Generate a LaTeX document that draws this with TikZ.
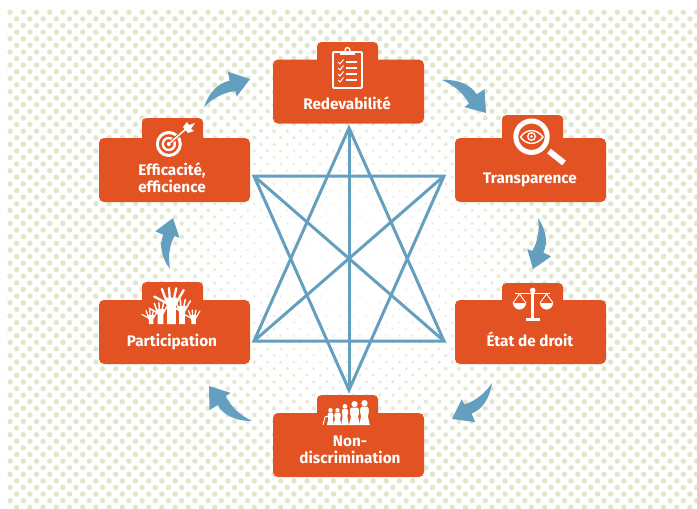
\documentclass[tikz,border=0pt]{standalone}
\usepackage{fontspec}
\setmainfont{Fira Sans}
\usepackage{tikz}
\usepackage{xcolor}
\usetikzlibrary{calc}
\definecolor{dutyorange}{HTML}{E25222}
\definecolor{starblue}{HTML}{659FBF}
\definecolor{dotgreen}{HTML}{DFE6CA}
\tikzset{
	dutybox/.style={fill=dutyorange,rounded corners=5pt,minimum width=151pt,minimum height=64pt,inner sep=0pt},
	dutytab/.style={fill=dutyorange,rounded corners=4pt,minimum width=61pt,minimum height=30pt,inner sep=0pt,anchor=north},
	dutylabel/.style={text=white,font=\bfseries\fontsize{15.3}{17}\selectfont,align=center,inner sep=0pt},
	starline/.style={draw=starblue,line width=3pt,line join=miter},
	icon/.style={draw=white,line width=1.8pt,line cap=round}
}
% point of a flow arrow, along and across the line from tail to tip
\newcommand{\ap}[2]{($(\tail)!#1!(\tip)+(\tail)!#2!90:(\tip)-(\tail)$)}
\newcommand{\flowarrow}[2]{
	\def\tail{#1}\def\tip{#2}
	\fill[starblue] (\tail) .. controls \ap{.2}{.17} and \ap{.45}{.25} .. \ap{.66}{.17} -- \ap{.72}{.33} -- (\tip) -- \ap{.62}{-.15} -- \ap{.65}{-.05} .. controls \ap{.45}{.05} and \ap{.2}{.05} .. (\tail) -- cycle;
}
% one raised hand: x, top of palm, bottom of arm, size
\newcommand{\raisedhand}[4]{
	\fill[white] (#1-#4*.45,#3) -- (#1-#4*.45,#2+#4*1.1) -- (#1-#4*.6,#2) -- (#1+#4*.6,#2) -- (#1+#4*.45,#2+#4*1.1) -- (#1+#4*.45,#3) -- cycle;
	\foreach \a/\o in {-62/-.3,-20/-.42,-4/-.14,12/.14,30/.42}
		\draw[white,line width=#4*.24pt,line cap=round] (#1+#4*\o,#2+#4*.7) -- ++(\a+90:-#4*1.7);
}
% one figure of the group: x, top of head, head radius, half width
\newcommand{\groupfigure}[4]{
	\fill[white] (#1,#2+#3) circle (#3);
	\fill[white] (#1-#4*.7,#2+#3*2.1) .. controls (#1-#4*1.2,#2+#3*2.5) and (#1-#4*1.1,#2+#3*4) .. (#1-#4*.8,#2+#3*5)
		-- (#1-#4*1.25,425) -- (#1+#4*1.25,425) -- (#1+#4*.8,#2+#3*5)
		.. controls (#1+#4*1.1,#2+#3*4) and (#1+#4*1.2,#2+#3*2.5) .. (#1+#4*.7,#2+#3*2.1) -- cycle;
}
\begin{document}
\begin{tikzpicture}[x=1pt,y=-1pt]
	\useasboundingbox (0,0) rectangle (697,509);
	% background dots, fading to the middle
	\begin{scope}
		\clip (6,8) rectangle (697,509);
		\foreach \row in {0,...,77}
			\foreach \col in {0,...,53}{
				\pgfmathsetmacro{\dotx}{3.5+13.2*\col+6.6*mod(\row,2)}
				\pgfmathsetmacro{\doty}{5.7+6.6*\row}
				\pgfmathsetmacro{\fade}{min(1,veclen(\dotx-349,\doty-258)/215)}
				\pgfmathsetmacro{\pct}{int(30+70*\fade)}
				\fill[dotgreen!\pct!white] (\dotx,\doty) circle ({.5+2.2*\fade});
			}
	\end{scope}
	% star
	\coordinate (top) at (349,128);
	\coordinate (bottom) at (349,390);
	\coordinate (upleft) at (254,176);
	\coordinate (upright) at (444,176);
	\coordinate (lowleft) at (254,341);
	\coordinate (lowright) at (444,341);
	\draw[starline] (top) -- (lowright) -- (lowleft) -- cycle;
	\draw[starline] (bottom) -- (upright) -- (upleft) -- cycle;
	\draw[starline] (top) -- (bottom);
	\draw[starline] (upleft) -- (lowright);
	\draw[starline] (upright) -- (lowleft);
	% boxes
	\node[dutytab] (redevtab) at (347.5,42) {};
	\node[dutybox] (redev) at (348.5,91.5) {};
	\node[dutytab] (transptab) at (532.5,115) {};
	\node[dutybox] (transp) at (530.5,170) {};
	\node[dutytab] (etattab) at (532.5,283) {};
	\node[dutybox] (etat) at (530.5,332) {};
	\node[dutytab] (nondisctab) at (347.5,395) {};
	\node[dutybox] (nondisc) at (348.5,445) {};
	\node[dutytab] (participtab) at (172.5,282) {};
	\node[dutybox] (particip) at (174.5,332) {};
	\node[dutytab] (efficatab) at (172.5,118) {};
	\node[dutybox] (effica) at (174.5,170) {};
	\node[dutylabel,anchor=base] (redevlabel) at (347,109) {Redevabilité};
	\node[dutylabel,anchor=base] (transplabel) at (530,183) {Transparence};
	\node[dutylabel,anchor=base] (etatlabel) at (530,346) {État de droit};
	\node[dutylabel] (nondisclabel) at (350,450) {Non-\\discrimination};
	\node[dutylabel,anchor=base] (participlabel) at (172,346) {Participation};
	\node[dutylabel] (efficalabel) at (172,178) {Efficacité,\\efficience};
	% arrows
	\coordinate (a1) at (442,80);   \coordinate (b1) at (486,113);
	\coordinate (a2) at (538,218);  \coordinate (b2) at (533,269);
	\coordinate (a3) at (492,383);  \coordinate (b3) at (452,419);
	\coordinate (a4) at (252,421);  \coordinate (b4) at (209,386);
	\coordinate (a5) at (170,269);  \coordinate (b5) at (173,218);
	\coordinate (a6) at (204,107);  \coordinate (b6) at (250,79);
	\foreach \i in {1,...,6}
		\flowarrow{a\i}{b\i}
	% clipboard
	\draw[icon,fill=dutyorange,rounded corners=2pt] (333,52) rectangle (362,88);
	\fill[white] (340,50.5) rectangle (355,55);
	\draw[white,line width=1.3pt] (347.5,50) circle (2.4);
	\foreach \y in {62,68,74,80}{
		\draw[white,line width=1pt] (338,\y) -- (340,\y+2) -- (343.5,\y-2.5);
		\draw[white,line width=1.4pt] (346,\y) -- (357,\y);
	}
	% magnifier
	\draw[white,line width=5pt] (531.5,136.7) circle (15.7);
	\draw[white,line width=6pt] (549,151) -- (564,163);
	\draw[white,line width=1.4pt] (520.5,137) .. controls (526,128.5) and (537,128.5) .. (543,137) .. controls (537,145.5) and (526,145.5) .. (520.5,137) -- cycle;
	\draw[white,line width=1.3pt] (531.5,136.5) circle (3.8);
	\fill[white] (531.5,136.5) circle (1.4);
	% scales
	\fill[white] (531.2,291) rectangle (534.2,318);
	\fill[white] (526,318) rectangle (540,320.5);
	\fill[white] (532.7,290.5) circle (2.8);
	\draw[white,line width=1.6pt] (515,293.5) -- (550,293.5);
	\draw[white,line width=.9pt] (513,303) -- (519.5,294) -- (526,303);
	\draw[white,line width=.9pt] (540,303) -- (546.5,294) -- (553,303);
	\fill[white] (513,303) arc[start angle=180,end angle=0,radius=6.5] -- cycle;
	\fill[white] (540,303) arc[start angle=180,end angle=0,radius=6.5] -- cycle;
	% target
	\draw[white,line width=3pt] (168.8,144) circle (11.5);
	\draw[white,line width=2.4pt] (168.8,144) circle (6);
	\fill[white] (168.8,144) circle (2);
	\draw[dutyorange,line width=3.4pt] (170,143) -- (188,127);
	\draw[white,line width=1.5pt] (168.8,144) -- (187,128);
	\fill[white] (183,127) -- (187,122) -- (189,125) -- (195,123) -- (191,129) -- (194,131) -- (188,133) -- cycle;
	% hands
	\raisedhand{151}{315}{324}{5}
	\raisedhand{193.5}{315}{324}{5}
	\raisedhand{160.5}{309}{324}{6.2}
	\raisedhand{182}{306}{324}{6.6}
	\raisedhand{171.5}{297.5}{324}{9.6}
	% people
	\draw[white,line width=.9pt] (323,425) -- (325,417) -- (329,416);
	\groupfigure{330.5}{408}{2.2}{2.8}
	\groupfigure{337.5}{408}{2.2}{3.2}
	\groupfigure{345}{404}{2.4}{3}
	\groupfigure{354.5}{401}{3.1}{4.4}
	\groupfigure{364.5}{400}{3.2}{4.2}
\end{tikzpicture}
\end{document}
